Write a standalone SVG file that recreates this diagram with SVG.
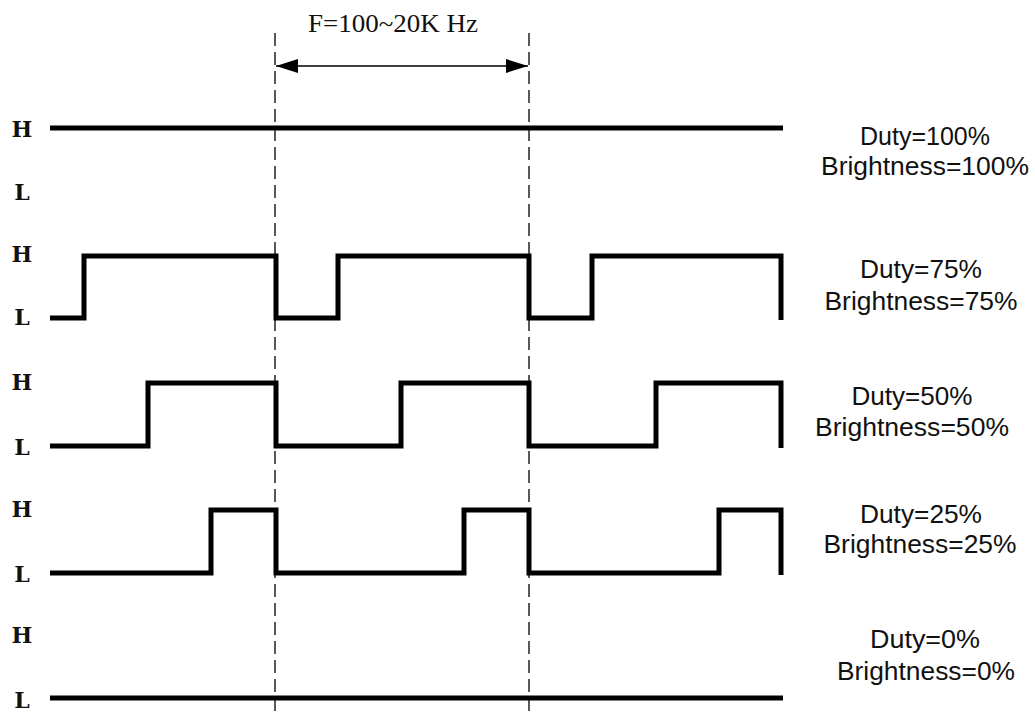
<svg xmlns="http://www.w3.org/2000/svg" width="1035" height="716" viewBox="0 0 1035 716">
<style>
.wave{fill:none;stroke:#000;stroke-width:5;stroke-linejoin:miter;stroke-linecap:butt}
.dash{stroke:#222;stroke-width:1.5;stroke-dasharray:13 6;fill:none}
.lvl{font-family:"DejaVu Serif","Liberation Serif",serif;font-weight:bold;font-size:22px;fill:#111;text-anchor:middle}
.lbl{font-family:"Liberation Sans",Arial,sans-serif;font-size:25px;fill:#111;text-anchor:middle}
.ttl{font-family:"Liberation Serif","Times New Roman",serif;font-size:26px;fill:#111;text-anchor:middle}
</style>
<defs>
<marker id="ah" viewBox="0 0 22 14" refX="22" refY="7" markerWidth="22" markerHeight="14" markerUnits="userSpaceOnUse" orient="auto-start-reverse">
<path d="M0,0 L22,7 L0,14 Z" fill="#000"/>
</marker>
</defs>
<rect width="1035" height="716" fill="#fff"/>
<g id="connectors">
<line class="dash" x1="275" y1="33" x2="275" y2="716"/>
<line class="dash" x1="529" y1="33" x2="529" y2="716"/>
<line x1="276" y1="66" x2="528" y2="66" stroke="#000" stroke-width="1.5" marker-start="url(#ah)" marker-end="url(#ah)"/>
</g>
<g id="title"><text class="ttl" x="393" y="32" textLength="170" lengthAdjust="spacingAndGlyphs">F=100~20K Hz</text></g>
<g id="levels">
<text class="lvl" x="22" y="137">H</text>
<text class="lvl" x="22" y="200">L</text>
<text class="lvl" x="22" y="262">H</text>
<text class="lvl" x="22" y="325">L</text>
<text class="lvl" x="22" y="390">H</text>
<text class="lvl" x="22" y="455">L</text>
<text class="lvl" x="22" y="517">H</text>
<text class="lvl" x="22" y="582">L</text>
<text class="lvl" x="22" y="643">H</text>
<text class="lvl" x="22" y="708">L</text>
</g>
<g id="wave100">
<polyline class="wave" points="50,128 783,128"/>
<text class="lbl" x="925" y="145" textLength="130" lengthAdjust="spacingAndGlyphs">Duty=100%</text>
<text class="lbl" x="925" y="175" textLength="208" lengthAdjust="spacingAndGlyphs">Brightness=100%</text>
</g>
<g id="wave75">
<polyline class="wave" points="50,318 84,318 84,256 276,256 276,318 338,318 338,256 529,256 529,318 592,318 592,256 781,256 781,320"/>
<text class="lbl" x="921" y="278" textLength="122" lengthAdjust="spacingAndGlyphs">Duty=75%</text>
<text class="lbl" x="921" y="310" textLength="193" lengthAdjust="spacingAndGlyphs">Brightness=75%</text>
</g>
<g id="wave50">
<polyline class="wave" points="50,446 148,446 148,383 276,383 276,446 401,446 401,383 529,383 529,446 656,446 656,383 781,383 781,448"/>
<text class="lbl" x="912" y="405" textLength="121" lengthAdjust="spacingAndGlyphs">Duty=50%</text>
<text class="lbl" x="912" y="436" textLength="194" lengthAdjust="spacingAndGlyphs">Brightness=50%</text>
</g>
<g id="wave25">
<polyline class="wave" points="50,573 211,573 211,510 276,510 276,573 464,573 464,510 529,510 529,573 719,573 719,510 781,510 781,575"/>
<text class="lbl" x="921" y="523" textLength="122" lengthAdjust="spacingAndGlyphs">Duty=25%</text>
<text class="lbl" x="920" y="553" textLength="193" lengthAdjust="spacingAndGlyphs">Brightness=25%</text>
</g>
<g id="wave0">
<polyline class="wave" points="50,698 783,698"/>
<text class="lbl" x="925" y="648" textLength="110" lengthAdjust="spacingAndGlyphs">Duty=0%</text>
<text class="lbl" x="926" y="680" textLength="178" lengthAdjust="spacingAndGlyphs">Brightness=0%</text>
</g>
</svg>
